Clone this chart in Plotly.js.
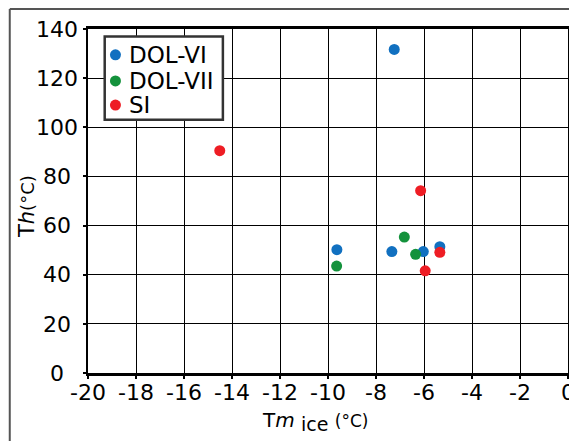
<!DOCTYPE html>
<html>
<head>
<meta charset="utf-8">
<script src="https://cdn.plot.ly/plotly-3.0.1.min.js"></script>
<style>
html,body{margin:0;padding:0;background:#fff;}
#chart{width:569px;height:441px;}
</style>
</head>
<body>
<div id="chart"></div>
<script>
// Data
const seriesNames = ["DOL-VI", "DOL-VII", "SI"];
const dolVI_x = [-7.24, -9.63, -7.34, -6.03, -5.34];
const dolVI_y = [131.7, 50.2, 49.4, 49.4, 51.4];
const dolVII_x = [-9.64, -6.82, -6.35];
const dolVII_y = [43.5, 55.3, 48.3];
const si_x = [-14.51, -6.14, -5.34, -5.95];
const si_y = [90.5, 74.2, 49.1, 41.6];
const xTickVals = [-20, -18, -16, -14, -12, -10, -8, -6, -4, -2, 0];
const xTickText = ["-20", "-18", "-16", "-14", "-12", "-10", "-8", "-6", "-4", "-2", "0"];
const yTickVals = [0, 20, 40, 60, 80, 100, 120, 140];
const yTickText = ["0", "20", "40", "60", "80", "100", "120", "140"];

const colors = ["#1170c0", "#14923c", "#ee1d24"];
const FONT = "DejaVu Sans, Verdana, sans-serif";

function mk(name, x, y, c) {
  return {type: "scatter", mode: "markers", name: name, x: x, y: y,
          marker: {color: c, size: 11, line: {width: 0}}, cliponaxis: false,
          showlegend: false};
}

const data = [
  mk(seriesNames[0], dolVI_x, dolVI_y, colors[0]),
  mk(seriesNames[1], dolVII_x, dolVII_y, colors[1]),
  mk(seriesNames[2], si_x, si_y, colors[2])
];

// y tick labels are centred in the reference: pad shorter labels on the right
const maxLen = Math.max(...yTickText.map(s => s.length));
const yTickTextCentred = yTickText.map(s => s + "&nbsp;".repeat(maxLen - s.length));

// Legend box (drawn with shapes + annotations to match the compact spacing)
const legBox = {x0: 0.0348, x1: 0.281, y0: 0.736, y1: 0.9785};
const legRowsY = [0.925, 0.849, 0.779];
const legMarkX = 0.0572;
const legTextX = 0.0815;

const shapes = [
  {type: "line", xref: "paper", yref: "paper", x0: -0.163, x1: -0.163, y0: 1.058, y1: -0.4,
   line: {color: "#555", width: 2}},
  {type: "line", xref: "paper", yref: "paper", x0: -0.163, x1: 1.1, y0: 1.058, y1: 1.058,
   line: {color: "#555", width: 2}},
  {type: "rect", xref: "paper", yref: "paper", x0: legBox.x0, x1: legBox.x1, y0: legBox.y0, y1: legBox.y1,
   line: {color: "#333", width: 2.5}, fillcolor: "#fff", layer: "above"}
];
const annotations = [];
seriesNames.forEach((n, i) => {
  shapes.push({type: "circle", xref: "paper", yref: "paper",
    xsizemode: "pixel", ysizemode: "pixel", xanchor: legMarkX, yanchor: legRowsY[i],
    x0: -5.5, x1: 5.5, y0: -5.5, y1: 5.5,
    fillcolor: colors[i], line: {width: 0}, layer: "above"});
  annotations.push({xref: "paper", yref: "paper", x: legTextX, y: legRowsY[i],
    xanchor: "left", yanchor: "middle", showarrow: false, text: n,
    font: {family: FONT, size: 23, color: "#000"}});
});
// axis titles
annotations.push({xref: "paper", yref: "paper", x: -0.1267, y: 0.483,
  xanchor: "center", yanchor: "middle", showarrow: false, textangle: -90,
  text: "T<i>h</i><span style='font-size:18px'>(°C)</span>",
  font: {family: FONT, size: 21, color: "#000"}});
annotations.push({xref: "paper", yref: "paper", x: 0.358, y: -0.095,
  xanchor: "left", yanchor: "top", showarrow: false,
  text: "T<i>m</i> <sub><span style='font-size:19px'>ice</span></sub> <span style='font-size:17px'>(°C)</span>",
  font: {family: FONT, size: 20, color: "#000"}});

const layout = {
  width: 569, height: 441,
  margin: {l: 88, r: 1, t: 29, b: 68, pad: 0},
  paper_bgcolor: "#fff", plot_bgcolor: "#fff",
  font: {family: FONT, color: "#000", size: 22},
  showlegend: false,
  xaxis: {range: [-20, 0], tickmode: "array", tickvals: xTickVals, ticktext: xTickText,
          tickangle: 0, showgrid: true, gridcolor: "#000", gridwidth: 1,
          zeroline: false, showline: true, linecolor: "#000", linewidth: 3, mirror: true,
          ticks: "outside", ticklen: 3, tickwidth: 2, tickcolor: "#000",
          ticklabeloverflow: "allow", ticklabelstandoff: -5,
          tickfont: {family: FONT, size: 22, color: "#000"},
          automargin: false},
  yaxis: {range: [0, 140], tickmode: "array", tickvals: yTickVals, ticktext: yTickTextCentred,
          showgrid: true, gridcolor: "#000", gridwidth: 1,
          zeroline: false, showline: true, linecolor: "#000", linewidth: 2.5, mirror: true,
          ticks: "outside", ticklen: 3, tickwidth: 2, tickcolor: "#000",
          tickfont: {family: FONT, size: 22, color: "#000"},
          automargin: false},
  shapes: shapes,
  annotations: annotations
};

Plotly.newPlot("chart", data, layout, {displayModeBar: false, staticPlot: true});
</script>
</body>
</html>
